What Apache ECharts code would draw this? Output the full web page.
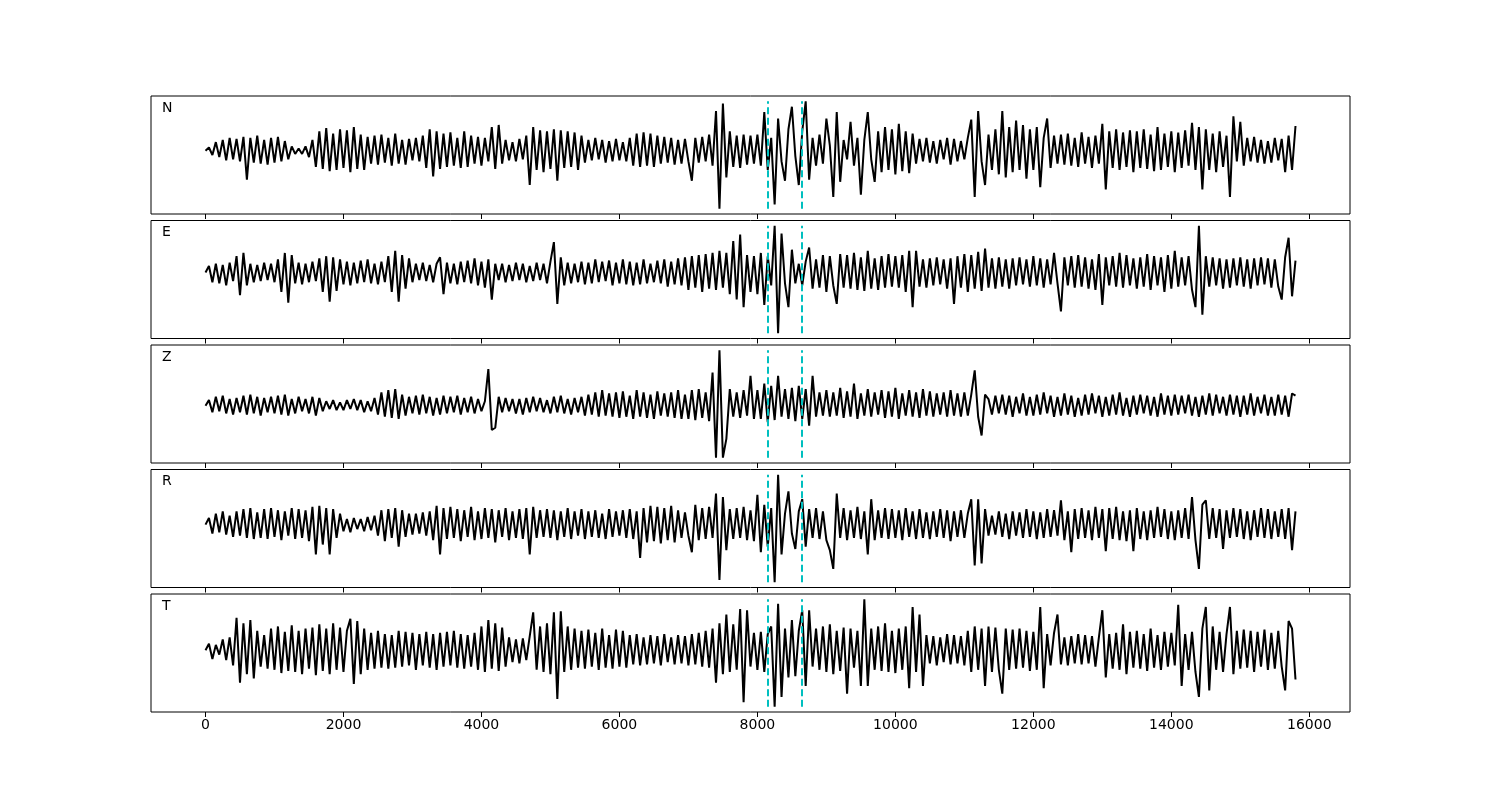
<!DOCTYPE html>
<html>
<head>
<meta charset="utf-8">
<script src="https://cdn.jsdelivr.net/npm/echarts@6/dist/echarts.min.js"></script>
<style>
  html, body { margin: 0; padding: 0; background: #fff; }
  #chart { width: 1500px; height: 800px; }
</style>
</head>
<body>
<div id="chart"></div>
<script>
// sample spacing along x (every value below is one sample)
const STEP = 50;
const traceNames = ["N", "E", "Z", "R", "T"];
const pickLines = [8150, 8650];
const tickValues = [0, 2000, 4000, 6000, 8000, 10000, 12000, 14000, 16000];

// amplitudes, one sample every STEP
const nVals = [
  0, 3, -4, 8, -6, 10, -9, 12, -8, 11,
  -10, 13, -27, 12, -11, 14, -12, 10, -13, 12,
  -11, 13, -10, 9, -8, 4, -3, 2, -3, 4,
  -6, 10, -15, 18, -17, 21, -19, 16, -18, 20,
  -16, 19, -20, 22, -17, 15, -18, 13, -12, 14,
  -13, 15, -11, 12, -14, 16, -12, 10, -13, 11,
  -9, 12, -10, 14, -16, 20, -24, 18, -17, 16,
  -15, 17, -14, 12, -16, 18, -15, 14, -12, 13,
  -14, 12, -10, 22, -17, 24, -12, 10, -9, 8,
  -10, 11, -8, 14, -32, 22, -18, 19, -20, 18,
  -17, 20, -28, 19, -16, 18, -15, 17, -18, 14,
  -11, 10, -9, 12, -8, 10, -11, 9, -10, 11,
  -9, 8, -10, 12, -14, 16, -15, 17, -14, 16,
  -15, 14, -12, 13, -11, 12, -13, 10, -12, 11,
  -10, -28, 12, -11, 13, -10, 15, -14, 37, -54,
  44, -25, 18, -15, 14, -16, 15, -13, 14, -12,
  15, -14, 36, -18, 12, -50, 30, -10, -28, 20,
  41, -5, -32, 18, 46, -27, 12, -14, 15, -12,
  30, 5, -43, 36, -29, 10, -8, 27, -14, 12,
  -41, 10, 36, -8, -29, 18, -20, 22, -18, 20,
  -22, 25, -19, 18, -21, 16, -12, 11, -10, 12,
  -11, 9, -12, 10, -8, 12, -13, 11, -10, 9,
  -8, 12, 29, -43, 37, -10, -32, 15, -18, 20,
  -22, 37, -25, 22, -20, 28, -18, 24, -26, 20,
  -18, 22, -34, 12, 30, -16, 14, -12, 15, -13,
  16, -14, 12, -15, 17, -12, 13, -16, 14, -12,
  25, -36, 18, -16, 20, -18, 17, -15, 19, -20,
  18, -16, 20, -17, 15, -19, 22, -18, 16, -15,
  18, -20, 17, -16, 19, -14, 26, -18, 22, -36,
  20, -18, 16, -20, 18, -15, 14, -43, 32, -10,
  27, -14, 12, -10, 13, -11, 10, -12, 9, -11,
  12, -9, 11, -20, 14, -18, 23
];
const eVals = [
  0, 6, -9, 8, -10, 7, -12, 9, -8, 15,
  -21, 18, -12, 8, -9, 7, -8, 9, -7, 8,
  -9, 12, -18, 18, -28, 16, -10, 9, -11, 8,
  -9, 10, -8, 13, -18, 15, -27, 14, -17, 12,
  -11, 10, -12, 9, -10, 11, -9, 12, -10, 8,
  -11, 10, -9, 15, -18, 20, -27, 16, -15, 13,
  -9, 8, -7, 9, -8, 7, -9, 8, 14, -20,
  9, -10, 8, -11, 10, -9, 11, -10, 13, -12,
  10, -14, 12, -25, 8, -7, 8, -9, 7, -8,
  9, -7, 8, -9, 6, -8, 9, -7, 8, -10,
  10, 28, -29, 14, -12, 9, -10, 8, -9, 10,
  -11, 9, -10, 12, -9, 10, -8, 11, -12, 9,
  -10, 12, -11, 10, -12, 9, -11, 12, -10, 8,
  -9, 11, -10, 12, -13, 10, -11, 13, -12, 14,
  -16, 15, -14, 16, -18, 17, -15, 18, -16, 20,
  -14, 18, -20, 29, -25, 35, -32, 16, -18, 15,
  -20, 18, -30, 15, -12, 43, -56, 36, -10, -32,
  21, -10, 8, -12, 10, 23, -15, 12, -14, 16,
  -18, 15, -12, -29, 17, -14, 16, -15, 18, -16,
  14, -17, 20, -15, 13, -16, 15, -14, 17, -13,
  15, -14, 16, -18, 20, -32, 20, -13, 12, -14,
  13, -12, 14, -11, 12, -15, 13, -29, 15, -14,
  17, -18, 16, -15, 19, -17, 22, -14, 13, -15,
  14, -13, 12, -15, 13, -12, 14, -11, 12, -13,
  15, -12, 13, -14, 12, -11, 18, -10, -36, 14,
  -12, 15, -14, 16, -13, 14, -15, 12, -16, 17,
  -30, 14, -12, 15, -13, 18, -14, 16, -12, 13,
  -15, 14, -13, 17, -16, 15, -12, 14, -18, 16,
  -15, 20, -13, 14, -12, 15, -16, -32, 43, -39,
  15, -13, 14, -12, 13, -15, 12, -14, 13, -12,
  14, -13, 12, -15, 13, -12, 14, -11, 13, -14,
  12, -13, -25, 14, 32, -22, 11
];
const zVals = [
  0, 5, -6, 8, -5, 9, -7, 6, -8, 7,
  -6, 9, -8, 10, -7, 8, -9, 7, -6, 8,
  -7, 9, -8, 10, -9, 6, -7, 8, -5, 6,
  -7, 8, -9, 7, -5, 4, -3, 5, -4, 3,
  -4, 5, -3, 6, -4, 5, -6, 4, -5, 7,
  -8, 12, -10, 14, -11, 15, -12, 10, -9, 8,
  -7, 9, -8, 10, -7, 8, -9, 7, -8, 9,
  -7, 8, -6, 9, -8, 7, -6, 8, -7, 6,
  -5, 4, 33, -22, -20, 8, -6, 7, -5, 6,
  -7, 6, -8, 7, -6, 8, -5, 7, -6, 5,
  -7, 8, -6, 9, -7, 6, -8, 7, -6, 8,
  -9, 10, -8, 12, -10, 14, -9, 11, -10, 12,
  -11, 13, -10, 9, -12, 14, -10, 12, -11, 10,
  -12, 13, -9, 11, -10, 12, -11, 14, -12, 10,
  -12, 14, -13, 15, -11, 12, -14, 30, -47, 50,
  -47, -30, 15, -10, 12, -11, 14, -9, 27, -12,
  14, -12, 20, -15, 18, -13, 27, -10, 15, -12,
  16, -14, 18, -12, 15, -18, 27, -10, 12, -9,
  14, -10, 12, -9, 16, -11, 13, -10, 20, -12,
  11, -9, 15, -10, 12, -8, 14, -11, 13, -10,
  16, -12, 11, -9, 14, -10, 12, -11, 15, -9,
  13, -10, 11, -8, 12, -10, 14, -9, 11, -10,
  12, -9, 10, 32, -10, -27, 10, 6, -8, 9,
  -7, 10, -8, 9, -10, 8, -7, 11, -9, 8,
  -9, 10, -8, 12, -7, 9, -10, 8, -9, 11,
  -8, 9, -10, 7, -9, 10, -8, 11, -7, 9,
  -10, 8, -9, 10, -8, 12, -9, 7, -10, 9,
  -8, 10, -7, 9, -9, 8, -10, 11, -8, 9,
  -9, 10, -8, 9, -7, 10, -9, 8, -10, 9,
  -8, 11, -9, 10, -7, 8, -9, 10, -8, 9,
  -10, 9, -8, 11, -9, 8, -7, 10, -9, 8,
  -9, 10, -8, 9, -10, 11, 9
];
const rVals = [
  0, 6, -8, 10, -7, 12, -9, 8, -11, 12,
  -10, 14, -12, 15, -13, 11, -12, 14, -13, 15,
  -11, 13, -14, 12, -10, 15, -13, 14, -12, 13,
  -15, 16, -27, 17, -18, 15, -27, 14, -12, 10,
  -6, 5, -7, 6, -4, 5, -6, 7, -5, 8,
  -10, 13, -15, 14, -12, 15, -20, 13, -11, 10,
  -9, 10, -8, 11, -10, 12, -14, 17, -27, 15,
  -13, 16, -12, 14, -15, 13, -11, 16, -14, 12,
  -13, 15, -12, 14, -16, 13, -11, 15, -14, 12,
  -12, 14, -13, 15, -27, 16, -12, 13, -11, 14,
  -12, 13, -14, 12, -11, 15, -13, 12, -10, 14,
  -13, 12, -11, 13, -12, 10, -13, 14, -11, 12,
  -10, 13, -12, 14, -13, 12, -30, 15, -16, 17,
  -15, 16, -17, 15, -14, 17, -16, 13, -12, 11,
  -10, -25, 18, -14, 15, -13, 16, -12, 28, -50,
  25, -23, 14, -13, 15, -12, 16, -14, 13, -15,
  27, -25, 18, -20, 15, -52, 45, -27, 10, 30,
  -8, -22, 12, 23, -20, 14, -12, 15, -13, 12,
  -14, -23, -40, 28, -12, 15, -14, 13, -12, 16,
  -13, 12, -27, 23, -14, 13, -12, 15, -13, 14,
  -12, 13, -14, 15, -11, 12, -13, 14, -12, 11,
  -13, 12, -11, 14, -12, 13, -15, 12, -11, 13,
  -12, 10, 23, -37, 23, -35, 14, -10, 8, -9,
  12, -11, 10, -13, 12, -10, 11, -12, 14, -11,
  12, -13, 11, -12, 14, -11, 13, -10, 22, -14,
  12, -25, 14, -13, 15, -12, 13, -14, 16, -12,
  14, -24, 15, -13, 16, -14, 12, -15, 13, -24,
  15, -13, 12, -14, 13, -12, 16, -11, 14, -13,
  12, -14, 13, -12, 15, -13, 25, -14, -40, 18,
  22, -13, 15, -12, 14, -22, 13, -12, 15, -11,
  14, -13, 12, -14, 13, -11, 15, -12, 14, -13,
  12, -11, 14, -13, 15, -23, 12
];
const tVals = [
  0, 6, -8, 5, -4, 10, -9, 12, -14, 30,
  -30, 25, -22, 28, -26, 18, -15, 14, -17, 20,
  -18, 22, -21, 17, -19, 23, -20, 18, -22, 20,
  -17, 21, -23, 24, -19, 20, -22, 25, -18, 21,
  -20, 18, 29, -31, 27, -22, 20, -18, 16, -17,
  18, -16, 15, -17, 14, -16, 18, -15, 17, -14,
  16, -18, 15, -14, 17, -16, 15, -18, 16, -15,
  17, -14, 18, -16, 15, -17, 14, -15, 16, -18,
  22, -20, 28, -17, 25, -19, 21, -15, 12, -11,
  10, -12, 11, -9, 13, 35, -18, 22, -20, 25,
  -22, 35, -45, 36, -20, 22, -18, 20, -16, 18,
  -17, 19, -15, 16, -18, 20, -16, 14, -17, 19,
  -15, 18, -16, 14, -13, 15, -14, 12, -13, 14,
  -12, 13, -14, 15, -11, 12, -13, 14, -12, 13,
  -14, 15, -13, 16, -15, 18, -16, 20, -30, 25,
  -22, 33, -20, 24, -18, 38, -48, 37, -15, 16,
  -18, 17, -20, 15, 22, -52, 43, -43, 20, -25,
  28, -24, 18, 37, -33, 37, -15, 20, -18, 22,
  -20, 24, -22, 18, -19, 21, -40, 20, -16, 18,
  -33, 47, -33, 20, -18, 22, -19, 25, -20, 18,
  -21, 20, -18, 22, -35, 40, -20, 33, -33, 14,
  -12, 13, -14, 12, -11, 15, -13, 14, -12, 13,
  -14, 18, -20, 22, -18, 20, -33, 22, -20, 21,
  -18, -40, 20, -18, 19, -17, 20, -16, 18, -19,
  17, -18, 40, -35, 15, -14, 16, 33, -13, 12,
  -14, 13, -12, 15, -13, 14, -12, 13, -15, 12,
  37, -25, 15, -17, 16, -18, 24, -22, 17, -16,
  18, -17, 15, -19, 20, -16, 14, -18, 17, -15,
  16, -14, 42, -33, 15, -18, 17, -20, -43, 20,
  40, -37, 22, -18, 17, -20, 15, 40, -22, 18,
  -17, 19, -16, 18, -20, 17, -15, 19, -18, 16,
  -17, 18, -15, -37, 27, 20, -27
];
const traces = [nVals, eVals, zVals, rVals, tVals];

// panel boxes (px)
const gridTops = [96, 220.5, 345, 469.5, 594];
const gridLeft = 151;
const gridWidth = 1199;
const gridHeight = 118;
const xMin = -790;
const xMax = 16590;

let myChart = echarts.init(document.getElementById("chart"), null, { renderer: "canvas" });

let grids = [];
let xAxes = [];
let yAxes = [];
let series = [];
let graphics = [];

traces.forEach((vals, k) => {
  let lo = Math.min(...vals);
  let hi = Math.max(...vals);
  let pad = (hi - lo) * 0.05;
  let isLast = k === traces.length - 1;

  grids.push({
    left: gridLeft,
    top: gridTops[k],
    width: gridWidth,
    height: gridHeight,
    show: true,
    borderColor: "#000",
    borderWidth: 1,
    backgroundColor: "transparent"
  });
  xAxes.push({
    type: "value",
    gridIndex: k,
    position: "bottom",
    min: xMin,
    max: xMax,
    // keep the ticks on the panel's bottom edge, not on y = 0
    axisLine: { show: false, onZero: false },
    splitLine: { show: false },
    axisTick: {
      show: true,
      length: 5,
      lineStyle: { color: "#000", width: 1 },
      customValues: tickValues
    },
    axisLabel: {
      show: isLast,
      margin: 6,
      color: "#000",
      fontSize: 14,
      fontFamily: "DejaVu Sans",
      customValues: tickValues,
      formatter: (v) => String(v)
    }
  });
  yAxes.push({
    type: "value",
    gridIndex: k,
    min: lo - pad,
    max: hi + pad,
    axisLine: { show: false },
    axisTick: { show: false },
    axisLabel: { show: false },
    splitLine: { show: false }
  });
  series.push({
    type: "line",
    xAxisIndex: k,
    yAxisIndex: k,
    data: vals.map((v, i) => [i * STEP, v]),
    showSymbol: false,
    smooth: false,
    lineStyle: { color: "#000", width: 2 },
    silent: true,
    markLine: {
      symbol: "none",
      silent: true,
      label: { show: false },
      lineStyle: { color: "#00bfbf", width: 2, type: [7, 3.5] },
      data: pickLines.map((x) => [{ coord: [x, lo] }, { coord: [x, hi] }])
    }
  });
  graphics.push({
    type: "text",
    left: 162,
    top: gridTops[k] + 5,
    style: {
      text: traceNames[k],
      fill: "#000",
      font: "14px 'DejaVu Sans'"
    }
  });
});

let opts = {
  backgroundColor: "#fff",
  animation: false,
  textStyle: { fontFamily: "DejaVu Sans" },
  grid: grids,
  xAxis: xAxes,
  yAxis: yAxes,
  series: series,
  graphic: graphics
};
myChart.setOption(opts);
</script>
</body>
</html>
